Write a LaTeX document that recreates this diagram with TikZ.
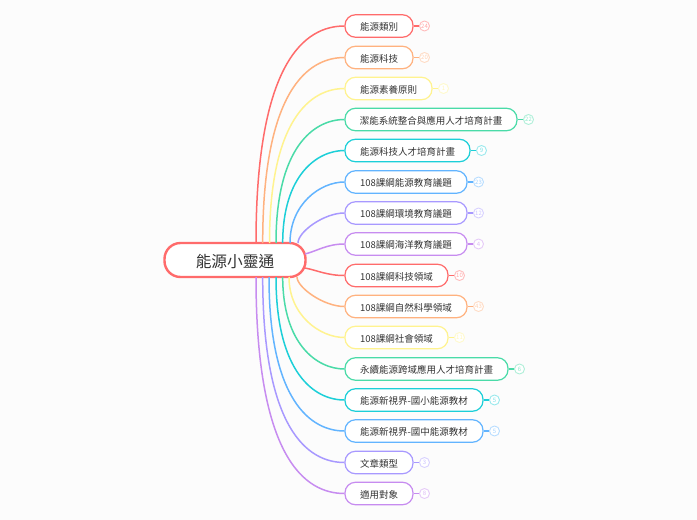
\documentclass[tikz,border=0pt]{standalone}
\usepackage{fontspec}
\setmainfont{Noto Sans CJK TC}

\definecolor{cred}{HTML}{FF6B6B}
\definecolor{corange}{HTML}{FFB27F}
\definecolor{cyellow}{HTML}{FFF38F}
\definecolor{cgreen}{HTML}{4ADBA8}
\definecolor{cteal}{HTML}{1CCFD8}
\definecolor{cblue}{HTML}{62B4FF}
\definecolor{cpurple}{HTML}{A899FF}
\definecolor{cviolet}{HTML}{C78CF0}
\definecolor{ctext}{HTML}{333333}

\tikzset{
	topic/.style={draw=#1, fill=white, line width=1.2pt, rounded corners=10.5pt, minimum height=22.5pt, inner sep=0pt, text height=10.5pt, text depth=1.5pt, text=ctext, font=\fontsize{9.5}{11}\selectfont},
	badge/.style={circle, draw=#1!45, fill=white, line width=0.9pt, minimum size=10pt, inner sep=0pt, text=#1!60, font=\fontsize{6}{6}\selectfont},
	branch/.style={draw=#1, line width=1.5pt},
	stub/.style={draw=#1, line width=1.2pt}
}

\begin{document}
\begin{tikzpicture}[x=1pt,y=-1pt]
	\useasboundingbox[fill=white!99!black] (0,0) rectangle (697,520);
	\node[draw=cred, fill=white, line width=2.4pt, rounded corners=16pt, minimum width=141pt, minimum height=34pt, inner sep=0pt, text height=16.5pt, text depth=2pt, text=ctext, font=\fontsize{15.7}{18}\selectfont] (root) at (235,260) {能源小靈通};
	\foreach \i/\name/\y/\xr/\col/\num/\sx/\sy in {
		1/能源類別/26/413/cred/24/256/243,
		2/能源科技/57.5/413/corange/20/262.7/243,
		3/能源素養原則/88.5/432/cyellow/1/269.5/243,
		4/潔能系統整合與應用人才培育計畫/119.5/517/cgreen/22/276/243,
		5/能源科技人才培育計畫/150.5/470/cteal/9/282.7/243,
		6/108課綱能源教育議題/182/467/cblue/23/290/243,
		7/108課綱環境教育議題/213/467/cpurple/12/298/243,
		8/108課綱海洋教育議題/244/467/cviolet/4/305/254,
		9/108課綱科技領域/275.5/448/cred/10/305/268,
		10/108課綱自然科學領域/306.5/467/corange/43/297/277,
		11/108課綱社會領域/337.5/448/cyellow/11/289/277,
		12/永續能源跨域應用人才培育計畫/369/508/cgreen/6/282.7/277,
		13/能源新視界-國小能源教材/400/483/cteal/5/276/277,
		14/能源新視界-國中能源教材/431/483/cblue/5/269/277,
		15/文章類型/462.5/413/cpurple/3/262.7/277,
		16/適用對象/493.5/413/cviolet/8/256/277%
	}{
		\pgfmathsetmacro{\pillw}{\xr-345}
		\pgfmathsetmacro{\xc}{(\xr+345)/2}
		\pgfmathsetmacro{\xb}{\xr+11.5}
		\pgfmathsetmacro{\rise}{min(0.4*(345-\sx),0.7*abs(\sy-\y))}
		\pgfmathsetmacro{\cy}{\y+\rise*(\sy>\y ? 1 : -1)}
		\pgfmathsetmacro{\ax}{abs(\sy-\y)<15 ? \sx+12 : \sx}
		\pgfmathsetmacro{\cx}{\sx+0.55*(345-\sx)}
		\node[topic=\col, minimum width=\pillw pt] (n\i) at (\xc,\y) {\name};
		\node[badge=\col] (b\i) at (\xb,\y) {\num};
		\coordinate (s\i) at (\sx,\sy);
		\draw[branch=\col] (s\i) .. controls (\ax,\cy) and (\cx,\y) .. (n\i.west);
		\draw[stub=\col] (n\i.east) -- (b\i.west);
	}
\end{tikzpicture}
\end{document}
